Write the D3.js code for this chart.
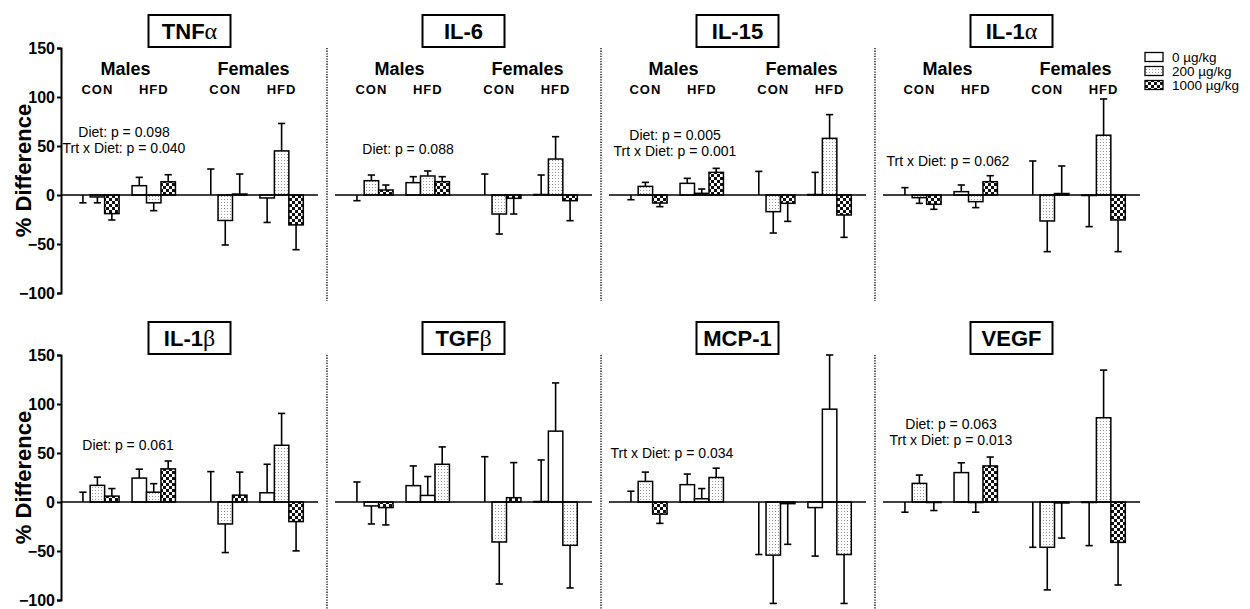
<!DOCTYPE html>
<html>
<head>
<meta charset="utf-8">
<script src="https://cdn.jsdelivr.net/npm/d3@7"></script>
<style>
  body { margin: 0; background: #fff; }
  svg { font-family: "Liberation Sans", Arial, sans-serif; }
</style>
</head>
<body>
<svg id="chart" width="1250" height="609"></svg>
<script>
"use strict";

// chart data
let panels = ["TNFα", "IL-6", "IL-15", "IL-1α", "IL-1β", "TGFβ", "MCP-1", "VEGF"];
let sexes = ["Males", "Females"];
let diets = ["CON", "HFD"];
let doses = ["0 µg/kg", "200 µg/kg", "1000 µg/kg"];
let yTicks = [150, 100, 50, 0, -50, -100];

// means, order: M-CON (0,200,1000), M-HFD, F-CON, F-HFD
let means = [
  [0, -2, -19, 9.5, -8, 13.5, 0, -26, 1, -3, 45, -30.5],
  [0, 14.6, 5.1, 12.6, 19.4, 13.6, 0, -19.4, -3.4, 0.5, 36.7, -5.8],
  [0, 8.8, -8.2, 11.9, 1.7, 23.1, 0, -17, -8.5, 0.5, 57.8, -20.4],
  [0, -2.7, -9.5, 3.4, -6.8, 13.6, 0, -26.5, 1.5, -0.5, 61, -25.5],
  [0, 17, 6, 24.4, 10, 33.8, 0, -22.4, 7, 9.4, 57.9, -20],
  [0, -4, -5.7, 16.7, 6.7, 38.5, 0, -40.8, 4.4, 0.5, 72.3, -44.2],
  [0, 21, -12.4, 17.7, 3.3, 25, 0, -54.2, -1.7, -5.7, 94.7, -53.6],
  [0, 19, -0.5, 30, -0.5, 36.8, 0, -46.2, -1, -0.5, 86, -41.2]
];
// error bar lengths, sign = direction drawn
let errs = [
  [-8, -6, -6.5, 8.5, -8, 7.2, 26.5, -25, 20.4, -25, 28, -25.3],
  [-5.8, 5.8, 5.1, 6.1, 5.1, 5.1, 21.4, -20.4, -16, 19.9, 22.8, -20.4],
  [-4.8, 4.1, -3.7, 5.1, 4.4, 4.1, 24.1, -21.8, -18.4, 22.6, 24.2, -22.8],
  [7.5, -5.8, -5.1, 6.8, -6.1, 6.1, 34.7, -31.3, 28.1, -31.8, 37, -32.3],
  [10, 8.4, 7.7, 9.1, 8.7, 8, 31, -29.2, 23.5, 29.1, 32.5, -29.9],
  [20.4, -18.4, -17.7, 20.1, 19.3, 17.7, 46.2, -42.9, 35.8, 42.4, 49.2, -43.5],
  [11, 9.5, -9.4, 10.8, 10.4, 9.5, -53.6, -49.3, -41.5, -49.5, 55.3, -49.9],
  [-10.4, 8.5, -8.2, 10, -9.9, 9.1, -46.2, -43.5, -35.8, -44, 48.6, -43.5]
];
let stats = [
  ["Diet: p = 0.098", "Trt x Diet: p = 0.040"],
  ["Diet: p = 0.088"],
  ["Diet: p = 0.005", "Trt x Diet: p = 0.001"],
  ["Trt x Diet: p = 0.062"],
  ["Diet: p = 0.061"],
  [],
  ["Trt x Diet: p = 0.034"],
  ["Diet: p = 0.063", "Trt x Diet: p = 0.013"]
];

// layout / style
let fills = ["url(#pWhite)", "url(#pDots)", "url(#pCheck)"];
// TGFb and MCP-1 HFD groups use other fills in the original figure
let hfdFills = { "TGFβ": [0, 0, 1], "MCP-1": [0, 0, 1] };
// where the stats text sits: [x offset in panel, y value]
let statPos = [[63, 64], [73, 47], [66, 61], [65, 35], [67, 58], null, [63, 50], [68, 80]];

let svg = d3.select("#chart");
let plotW = 257, plotH = 245, colStep = 274, left = 61;
let rowTop = [48, 355];

// patterns
let defs = svg.append("defs");
defs.append("pattern").attr("id", "pWhite").attr("width", 4).attr("height", 4)
  .attr("patternUnits", "userSpaceOnUse")
  .append("rect").attr("width", 4).attr("height", 4).attr("fill", "#fff");
let dots = defs.append("pattern").attr("id", "pDots").attr("width", 3).attr("height", 3)
  .attr("patternUnits", "userSpaceOnUse");
dots.append("rect").attr("width", 3).attr("height", 3).attr("fill", "#fff");
dots.append("rect").attr("x", 1).attr("y", 1).attr("width", 1).attr("height", 1).attr("fill", "#9a9a9a");
let chk = defs.append("pattern").attr("id", "pCheck").attr("width", 6).attr("height", 6)
  .attr("patternUnits", "userSpaceOnUse");
chk.append("rect").attr("width", 6).attr("height", 6).attr("fill", "#fff");
chk.append("rect").attr("width", 3).attr("height", 3).attr("fill", "#111");
chk.append("rect").attr("x", 3).attr("y", 3).attr("width", 3).attr("height", 3).attr("fill", "#111");

let xSex = d3.scaleBand().domain(sexes).range([0, plotW]).paddingInner(0.22).paddingOuter(0.115);
let xDiet = d3.scaleBand().domain(diets).range([0, xSex.bandwidth()]).paddingInner(0.23);
let xDose = d3.scaleBand().domain(doses).range([0, xDiet.bandwidth()]);

function titleText(sel, name) {
  let m = name.match(/^(.*?)([αβ])$/);
  if (m) {
    sel.append("tspan").text(m[1]);
    sel.append("tspan").attr("font-family", "'Liberation Serif', serif").attr("font-weight", "normal")
      .attr("font-size", 24).text(m[2]);
  } else {
    sel.text(name);
  }
}

panels.forEach(function (name, p) {
  let row = Math.floor(p / 4), col = p % 4;
  let x0 = left + col * colStep;
  let y0 = rowTop[row];
  let y = d3.scaleLinear().domain([-100, 150]).range([y0 + plotH, y0]);
  let g = svg.append("g").attr("transform", `translate(${x0},0)`);

  // items for bars
  let items = [];
  sexes.forEach(function (s, si) {
    diets.forEach(function (d, di) {
      doses.forEach(function (dose, k) {
        let i = si * 6 + di * 3 + k;
        let f = k;
        if (d === "HFD" && hfdFills[name]) f = hfdFills[name][k];
        items.push({ s: s, d: d, dose: dose, v: means[p][i], e: errs[p][i], fill: fills[f] });
      });
    });
  });
  let bx = d => xSex(d.s) + xDiet(d.d) + xDose(d.dose);
  let bw = xDose.bandwidth();

  // error bars
  let eb = g.selectAll("g.err").data(items).enter().append("g").attr("class", "err");
  eb.append("line")
    .attr("x1", d => bx(d) + bw / 2).attr("x2", d => bx(d) + bw / 2)
    .attr("y1", d => y(d.v)).attr("y2", d => y(d.v + d.e))
    .attr("stroke", "#000").attr("stroke-width", 1.6);
  eb.append("line")
    .attr("x1", d => bx(d) + bw / 2 - bw * 0.25).attr("x2", d => bx(d) + bw / 2 + bw * 0.25)
    .attr("y1", d => y(d.v + d.e)).attr("y2", d => y(d.v + d.e))
    .attr("stroke", "#000").attr("stroke-width", 1.6);

  // bars
  g.selectAll("rect.bar").data(items).enter().append("rect").attr("class", "bar")
    .attr("x", bx).attr("width", bw)
    .attr("y", d => y(Math.max(0, d.v)))
    .attr("height", d => Math.abs(y(d.v) - y(0)))
    .attr("fill", d => d.fill)
    .attr("stroke", "#000").attr("stroke-width", 1.5);

  // zero line
  g.append("line").attr("x1", 0).attr("x2", plotW).attr("y1", y(0)).attr("y2", y(0))
    .attr("stroke", "#000").attr("stroke-width", 1.5);

  // y axis on first column
  if (col === 0) {
    let ax = g.append("g").call(d3.axisLeft(y).tickValues(yTicks).tickSize(4).tickPadding(2));
    ax.select(".domain").attr("stroke-width", 2);
    ax.selectAll(".tick line").attr("stroke-width", 2);
    ax.selectAll("text").attr("font-size", 16).attr("font-weight", "bold")
      .attr("font-family", "'Liberation Sans', Arial, sans-serif").attr("fill", "#000");
    svg.append("text")
      .attr("transform", `translate(31,${y(25)}) rotate(-90)`)
      .attr("text-anchor", "middle").attr("font-size", 22).attr("font-weight", "bold")
      .text("% Difference");
  }

  // dotted separator on right
  if (col < 3) {
    let sx = (plotW + colStep) / 2 + 0.5;
    g.append("line").attr("x1", sx).attr("x2", sx)
      .attr("y1", y0).attr("y2", row === 0 ? 301 : 609)
      .attr("stroke", "#000").attr("stroke-width", 1.3).attr("stroke-dasharray", "1.3,1.3");
  }

  // title box
  let tcx = plotW / 2;
  let tcy = y0 - 17;
  g.append("rect").attr("x", tcx - 41).attr("y", tcy - 16).attr("width", 82).attr("height", 32)
    .attr("fill", "#fff").attr("stroke", "#000").attr("stroke-width", 2);
  g.append("text").attr("x", tcx).attr("y", tcy + 8).attr("text-anchor", "middle")
    .attr("font-size", 22).attr("font-weight", "bold")
    .call(titleText, name);

  // group labels, top row only
  if (row === 0) {
    sexes.forEach(function (s) {
      g.append("text").attr("x", xSex(s) + xSex.bandwidth() / 2).attr("y", 75)
        .attr("text-anchor", "middle").attr("font-size", 18).attr("font-weight", "bold").text(s);
      diets.forEach(function (d) {
        g.append("text").attr("x", xSex(s) + xDiet(d) + xDiet.bandwidth() / 2).attr("y", 94)
          .attr("text-anchor", "middle").attr("font-size", 13).attr("font-weight", "bold")
          .attr("letter-spacing", 1).text(d);
      });
    });
  }

  // stats text
  if (statPos[p]) {
    g.selectAll("text.stat").data(stats[p]).enter().append("text").attr("class", "stat")
      .attr("x", statPos[p][0]).attr("y", (d, i) => y(statPos[p][1]) + i * 16 + 5)
      .attr("text-anchor", "middle").attr("font-size", 14).text(d => d);
  }
});

// legend
let leg = svg.append("g").attr("transform", "translate(1145,57)");
let lr = leg.selectAll("g").data(doses).enter().append("g")
  .attr("transform", (d, i) => `translate(0,${i * 14})`);
lr.append("rect").attr("x", 0).attr("y", -4.5).attr("width", 18).attr("height", 9)
  .attr("fill", (d, i) => fills[i]).attr("stroke", "#000").attr("stroke-width", 1.3);
lr.append("text").attr("x", 27).attr("y", 4.5).attr("font-size", 13.5).text(d => d);
</script>
</body>
</html>
